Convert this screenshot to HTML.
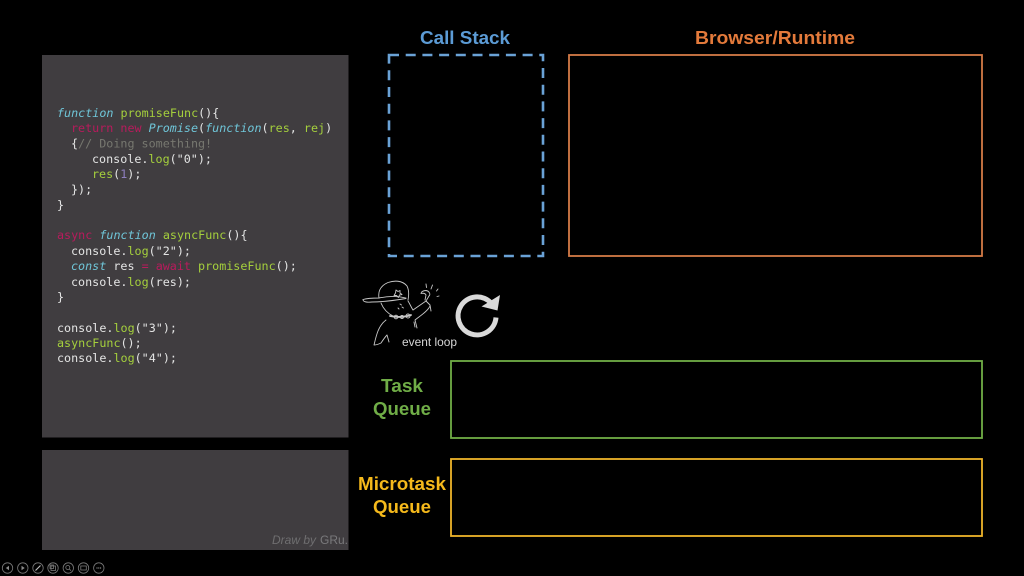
<!DOCTYPE html>
<html>
<head>
<meta charset="utf-8">
<style>
html,body{margin:0;padding:0;background:#000;width:1024px;height:576px;overflow:hidden}
svg{display:block}
.c{font-family:"DejaVu Sans Mono","Liberation Mono",monospace;font-size:11.72px;fill:#e4e4e4;white-space:pre}
.g{fill:#a5cf3c}.k{fill:#b81a5c}.b{fill:#6fc5d8;font-style:italic}.m{fill:#77776f}.n{fill:#8f7fc0}
.t{font-family:"Liberation Sans",sans-serif;font-weight:bold;font-size:18.5px;text-anchor:middle}
.all{filter:url(#soft)}
</style>
</head>
<body>
<svg width="1024" height="576" viewBox="0 0 1024 576" xmlns="http://www.w3.org/2000/svg">
<defs><filter id="soft" filterUnits="userSpaceOnUse" x="0" y="0" width="1024" height="576"><feGaussianBlur stdDeviation="0.3"/></filter></defs>
<rect width="1024" height="576" fill="#000"/>
<g class="all">
<rect x="42" y="55" width="306.500" height="382.500" fill="#3f3e40"/>
<rect x="42" y="450" width="306.500" height="100" fill="#3f3e40"/>

<g class="c">
<text x="57" y="117"><tspan class="b">function</tspan> <tspan class="g">promiseFunc</tspan>(){</text>
<text x="71" y="132"><tspan class="k">return</tspan> <tspan class="k">new</tspan> <tspan class="b">Promise</tspan>(<tspan class="b">function</tspan>(<tspan class="g">res</tspan>, <tspan class="g">rej</tspan>)</text>
<text x="71" y="147.500">{<tspan class="m">// Doing something!</tspan></text>
<text x="92" y="163">console.<tspan class="g">log</tspan>("0");</text>
<text x="92" y="178"><tspan class="g">res</tspan>(<tspan class="n">1</tspan>);</text>
<text x="71" y="193.500">});</text>
<text x="57" y="209">}</text>
<text x="57" y="239"><tspan class="k">async</tspan> <tspan class="b">function</tspan> <tspan class="g">asyncFunc</tspan>(){</text>
<text x="71" y="255">console.<tspan class="g">log</tspan>("2");</text>
<text x="71" y="270"><tspan class="b">const</tspan> res <tspan class="k">=</tspan> <tspan class="k">await</tspan> <tspan class="g">promiseFunc</tspan>();</text>
<text x="71" y="286">console.<tspan class="g">log</tspan>(res);</text>
<text x="57" y="301">}</text>
<text x="57" y="332">console.<tspan class="g">log</tspan>("3");</text>
<text x="57" y="347"><tspan class="g">asyncFunc</tspan>();</text>
<text x="57" y="362">console.<tspan class="g">log</tspan>("4");</text>
</g>

<text x="272" y="544" font-family="Liberation Sans,sans-serif" font-size="12" font-style="italic" fill="#6f6e70">Draw by</text>
<text x="320" y="544" font-family="Liberation Sans,sans-serif" font-size="12" fill="#7a797b">GRu.</text>

<text class="t" x="465" y="44" fill="#5b9bd5" textLength="90" lengthAdjust="spacingAndGlyphs">Call Stack</text>
<text class="t" x="775" y="44" fill="#e37a3a" textLength="160" lengthAdjust="spacingAndGlyphs">Browser/Runtime</text>
<text class="t" x="402" y="392" fill="#70ad47" textLength="42" lengthAdjust="spacingAndGlyphs">Task</text>
<text class="t" x="402" y="415" fill="#70ad47" textLength="58" lengthAdjust="spacingAndGlyphs">Queue</text>
<text class="t" x="402" y="490" fill="#f5b91a" textLength="88" lengthAdjust="spacingAndGlyphs">Microtask</text>
<text class="t" x="402" y="513" fill="#f5b91a" textLength="58" lengthAdjust="spacingAndGlyphs">Queue</text>

<rect x="389" y="55" width="154" height="201" fill="none" stroke="#6aa2d6" stroke-width="2.600" stroke-dasharray="10 6.700"/>
<rect x="569" y="55" width="413" height="201" fill="none" stroke="#d47a47" stroke-width="1.800"/>
<rect x="451" y="361" width="531" height="77" fill="none" stroke="#70ad47" stroke-width="1.800"/>
<rect x="451" y="459" width="531" height="77" fill="none" stroke="#eeb42a" stroke-width="1.800"/>

<!-- character sketch -->
<g fill="none" stroke="#c8c8c8" stroke-width="0.900" stroke-linecap="round" stroke-linejoin="round">
<path d="M379 298 C378 292 380 286 388 282.500 C394 280.500 402 280 407 286 C409 290 409 295 408 300"/>
<path d="M363 299.500 C368 298 374 298 379 298 C388 296 398 296 406 298"/>
<path d="M363 299.500 C363 302 367 302.500 372 302 C380 302 391 301 406 298.500"/>
<path d="M381 303 C383 308 387 313 393 316"/>
<path d="M408 301 C410 304 411 307 413 310"/>
<path d="M390 316 C395 317 402 318 411 315" stroke-width="1.800"/>
<circle cx="396" cy="317" r="1.800"/><circle cx="402" cy="317" r="1.500"/><circle cx="408" cy="316" r="2"/>
<path d="M413 310 L426 301 L430 305 L431 311"/>
<path d="M426 301 L429 296 C431 294 429 291 426 290.500 C423 290.500 421 292 421 293.500 C423 293 425 293 426 295 L425 300"/>
<path d="M430 306 C428 311 420 316 415 320 L417 328"/>
<path d="M414 322 L415 327"/>
<path d="M386 320 C382 323 380 326 378 331 C376 336 375 341 374 345 C377 345 379 344 381 343 C383 340 385 337 387 335 L389 342"/>
<path d="M396 290 l2 1.500 l2 -1 l0 2.500 l2 1.500 l-2.500 0.500 l-1 2.500 l-2 -2 l-2.500 0 l1.500 -2.500 z"/>
<path d="M400 304 l1.500 1 M402 307 l1.500 1 M398 308 l1 1"/>
<path d="M426 284 L426.500 287.500 M432.500 285 L431 289 M438 289 L436.500 291 M439 296 L437 296.500"/>
</g>
<text x="402" y="346" font-family="Liberation Sans,sans-serif" font-size="12" fill="#d6d6d6" textLength="55" lengthAdjust="spacingAndGlyphs">event loop</text>

<!-- refresh icon -->
<path d="M491 303 A19 19 0 1 0 496 317.500" fill="none" stroke="#dadada" stroke-width="5"/>
<path d="M500 295 L497.500 310.500 L481.500 306.500 Z" fill="#dadada"/>

<!-- toolbar -->
<g fill="none" stroke="#7a7a7a" stroke-width="0.800">
<circle cx="7.500" cy="568" r="5.200"/>
<circle cx="22.800" cy="568" r="5.200"/>
<circle cx="38" cy="568" r="5.200"/>
<circle cx="53" cy="568" r="5.200"/>
<circle cx="68.300" cy="568" r="5.200"/>
<circle cx="83.500" cy="568" r="5.200"/>
<circle cx="98.800" cy="568" r="5.200"/>
<path d="M35.500 570.500 L40.500 565.500" stroke="#bbb" stroke-width="1.200"/>
<rect x="51" y="566" width="4.500" height="4.500"/>
<rect x="50" y="565" width="3.500" height="3.500"/>
<circle cx="67.800" cy="567.500" r="2"/>
<path d="M69.300 569 L71 570.700"/>
<rect x="80.800" y="566" width="5.500" height="4"/>
</g>
<path d="M9 565.800 L5.800 568 L9 570.200 Z M21.500 565.800 L24.700 568 L21.500 570.200 Z" fill="#8a8a8a"/>
<path d="M96.500 568 h1 M98.300 568 h1 M100.100 568 h1" stroke="#bbb" stroke-width="1.100"/>
</g>
</svg>
</body>
</html>
